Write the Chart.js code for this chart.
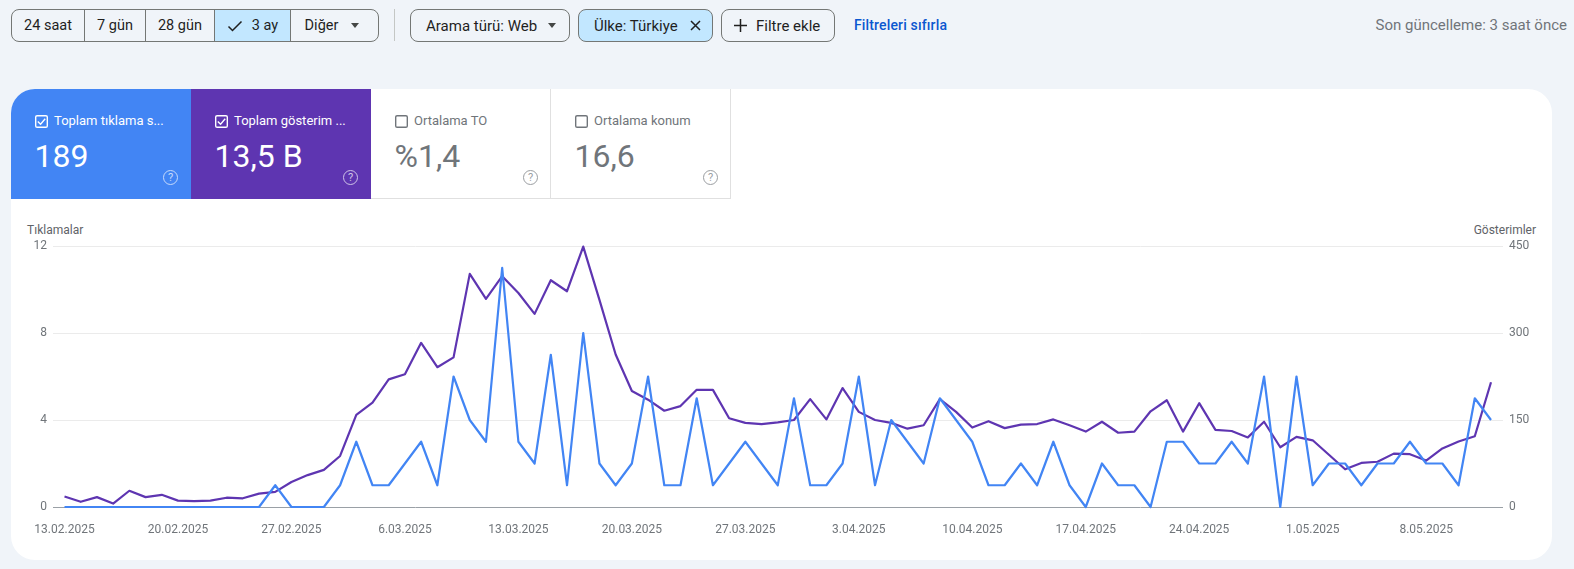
<!DOCTYPE html>
<html lang="tr">
<head>
<meta charset="utf-8">
<title>Performans</title>
<script src="https://cdn.jsdelivr.net/npm/chart.js@4/dist/chart.umd.min.js"></script>
<style>
  html, body { margin: 0; padding: 0; }
  body { width: 1574px; height: 569px; background: #f0f4f9; font-family: Roboto, sans-serif; color: #1f1f1f; position: relative; overflow: hidden; }
  .abs { position: absolute; }
  .btn { position: absolute; top: 9px; height: 31px; box-sizing: content-box; border: 1px solid #747775; border-radius: 8px; display: flex; align-items: center; font-size: 15px; white-space: nowrap; }
  .seg { height: 100%; display: flex; align-items: center; justify-content: center; box-sizing: border-box; border-right: 1px solid #747775; font-size: 14.5px; }
  .seg:last-child { border-right: 0; }
  .sel { background: #c2e7ff; }
  .caret { width: 0; height: 0; border-left: 4.5px solid transparent; border-right: 4.5px solid transparent; border-top: 5px solid #444746; display: inline-block; }
  #card { position: absolute; left: 11px; top: 89px; width: 1541px; height: 471px; background: #fff; border-radius: 24px; overflow: hidden; }
  .tab { position: absolute; top: 0; width: 180px; height: 110px; box-sizing: border-box; }
  .tab.off { border-right: 1px solid #e0e0e0; border-bottom: 1px solid #e0e0e0; color: #70757a; }
  .tab.on { color: #fff; }
  .tab .lbl { position: absolute; left: 43px; top: 24px; font-size: 13px; line-height: 16px; white-space: nowrap; }
  .tab .num { position: absolute; left: 23.5px; top: 47px; font-size: 32px; line-height: 40px; white-space: nowrap; }
  .tab svg.cb { position: absolute; left: 24px; top: 26px; }
  .tab .q { position: absolute; left: 152px; top: 81px; width: 13px; height: 13px; border: 1.5px solid currentColor; border-radius: 50%; font-size: 11px; line-height: 13px; text-align: center; opacity: .7; }
  #chartWrap { position: absolute; left: 0; top: 111px; width: 1541px; height: 360px; }
  .axisTitle { position: absolute; top: 134px; font-size: 12px; line-height: 14px; color: #5f6368; }
</style>
</head>
<body>
<div class="btn" style="left:11px;width:366px;">
  <div class="seg" style="width:73px;">24 saat</div>
  <div class="seg" style="width:61px;">7 gün</div>
  <div class="seg" style="width:69px;">28 gün</div>
  <div class="seg sel" style="width:76px;"><svg width="16" height="12" viewBox="0 0 16 12" style="margin-right:9px"><path d="M1.5 6.5l4 4 9-9" fill="none" stroke="#1f1f1f" stroke-width="1.5"/></svg>3 ay</div>
  <div class="seg" style="width:87px;padding-right:5px;">Diğer<span class="caret" style="margin-left:13px"></span></div>
</div>
<div class="abs" style="left:394px;top:9px;width:1px;height:32px;background:#c4c7c5;"></div>
<div class="btn" style="left:410px;width:143px;padding-left:15px;">Arama türü: Web<span class="caret" style="margin-left:11px"></span></div>
<div class="btn sel" style="left:578px;width:118px;padding-left:15px;">Ülke: Türkiye<svg width="11" height="11" viewBox="0 0 11 11" style="margin-left:12px"><path d="M1 1l9 9M10 1l-9 9" stroke="#1f1f1f" stroke-width="1.5"/></svg></div>
<div class="btn" style="left:721px;width:100px;padding-left:12px;"><svg width="13" height="13" viewBox="0 0 13 13" style="margin-right:9px"><path d="M6.5 0v13M0 6.5h13" stroke="#1f1f1f" stroke-width="1.5"/></svg>Filtre ekle</div>
<div class="abs" style="left:854px;top:17px;font-size:14px;line-height:16px;font-weight:500;letter-spacing:.15px;color:#0b57d0;">Filtreleri sıfırla</div>
<div class="abs" style="right:7px;top:16px;font-size:15px;line-height:18px;color:#70757a;">Son güncelleme: 3 saat önce</div>

<div id="card">
  <div class="tab on" style="left:0;background:#4285f4;">
    <svg class="cb" width="13" height="13" viewBox="0 0 14 14"><rect x=".75" y=".75" width="12.5" height="12.5" rx="1.5" fill="none" stroke="#fff" stroke-width="1.5"/><path d="M3 7l3 3 5-6" fill="none" stroke="#fff" stroke-width="1.5"/></svg>
    <div class="lbl">Toplam tıklama s...</div><div class="num">189</div><div class="q">?</div>
  </div>
  <div class="tab on" style="left:180px;background:#5e35b1;">
    <svg class="cb" width="13" height="13" viewBox="0 0 14 14"><rect x=".75" y=".75" width="12.5" height="12.5" rx="1.5" fill="none" stroke="#fff" stroke-width="1.5"/><path d="M3 7l3 3 5-6" fill="none" stroke="#fff" stroke-width="1.5"/></svg>
    <div class="lbl">Toplam gösterim ...</div><div class="num">13,5 B</div><div class="q">?</div>
  </div>
  <div class="tab off" style="left:360px;">
    <svg class="cb" width="13" height="13" viewBox="0 0 14 14"><rect x=".75" y=".75" width="12.5" height="12.5" rx="1.5" fill="none" stroke="#70757a" stroke-width="1.5"/></svg>
    <div class="lbl">Ortalama TO</div><div class="num">%1,4</div><div class="q">?</div>
  </div>
  <div class="tab off" style="left:540px;">
    <svg class="cb" width="13" height="13" viewBox="0 0 14 14"><rect x=".75" y=".75" width="12.5" height="12.5" rx="1.5" fill="none" stroke="#70757a" stroke-width="1.5"/></svg>
    <div class="lbl">Ortalama konum</div><div class="num">16,6</div><div class="q">?</div>
  </div>
  <div class="axisTitle" style="left:16px;">Tıklamalar</div>
  <div class="axisTitle" style="right:16px;">Gösterimler</div>
  <div id="chartWrap"><canvas id="perfChart"></canvas></div>
</div>

<script>
// x tick labels, one every 7 days (index -> label)
const tickIndexes = [0, 7, 14, 21, 28, 35, 42, 49, 56, 63, 70, 77, 84];
const tickLabels = ["13.02.2025", "20.02.2025", "27.02.2025", "6.03.2025", "13.03.2025", "20.03.2025", "27.03.2025", "3.04.2025", "10.04.2025", "17.04.2025", "24.04.2025", "1.05.2025", "8.05.2025"];

const clicks = [
    0, 0, 0, 0, 0, 0, 0, 0, 0, 0, 0, 0, 0, 1, 0, 0, 0, 1, 3, 1, 1, 2, 3, 1, 6, 4, 3, 11, 3, 2,
    7, 1, 8, 2, 1, 2, 6, 1, 1, 5, 1, 2, 3, 2, 1, 5, 1, 1, 2, 6, 1, 4, 3, 2, 5, 4, 3, 1, 1, 2,
    1, 3, 1, 0, 2, 1, 1, 0, 3, 3, 2, 2, 3, 2, 6, 0, 6, 1, 2, 2, 1, 2, 2, 3, 2, 2, 1, 5, 4,
];
const impressions = [
    18, 9, 17, 6, 28, 17, 21, 11, 10, 11, 16, 15, 23, 26, 43, 55, 64, 88, 159, 180, 220, 229, 283, 241, 258, 402, 359, 398, 369, 333,
    391, 372, 449, 357, 263, 200, 185, 166, 174, 202, 202, 153, 145, 143, 146, 150, 186, 151, 205, 164, 150, 145, 135, 141, 186, 164, 137, 148, 136, 142,
    143, 151, 141, 130, 147, 128, 130, 165, 184, 130, 179, 133, 131, 120, 147, 103, 121, 115, 90, 65, 76, 78, 92, 91, 80, 101, 113, 122, 215,
];

const toPoints = (arr) => arr.map((v, i) => ({ x: i, y: v }));
const TEXT_GREY = "#70757a";

new Chart(document.getElementById("perfChart"), {
    type: "line",
    data: {
        datasets: [
            { label: "Tıklamalar", data: toPoints(clicks), yAxisID: "y", borderColor: "#4285f4", borderWidth: 2.2, borderJoinStyle: "round", pointRadius: 0, tension: 0, clip: false },
            { label: "Gösterimler", data: toPoints(impressions), yAxisID: "y2", borderColor: "#5e35b1", borderWidth: 2.2, borderJoinStyle: "round", pointRadius: 0, tension: 0, clip: false },
        ],
    },
    options: {
        responsive: true,
        maintainAspectRatio: false,
        animation: false,
        layout: { padding: { top: 46 } },
        plugins: { legend: { display: false }, tooltip: { enabled: false } },
        scales: {
            x: {
                type: "linear",
                min: -0.71,
                max: 88.74,
                afterBuildTicks: (s) => { s.ticks = tickIndexes.map((v) => ({ value: v })); },
                afterFit: (s) => { s.height = 53; },
                grid: { display: false },
                border: { display: false },
                ticks: {
                    autoSkip: false,
                    maxRotation: 0,
                    padding: 8,
                    color: TEXT_GREY,
                    font: { family: "Roboto", size: 12 },
                    callback: (v) => tickLabels[tickIndexes.indexOf(v)],
                },
            },
            y: {
                position: "left",
                min: 0,
                max: 12,
                afterFit: (s) => { s.width = 42; },
                afterBuildTicks: (s) => { s.ticks = [0, 4, 8, 12].map((v) => ({ value: v })); },
                border: { display: false },
                grid: {
                    drawTicks: false,
                    lineWidth: 1,
                    color: (c) => (c.tick.value === 0 ? "#9aa0a6" : "#ebebeb"),
                },
                ticks: { padding: 6, color: TEXT_GREY, font: { family: "Roboto", size: 12 } },
            },
            y2: {
                position: "right",
                min: 0,
                max: 450,
                afterFit: (s) => { s.width = 49; },
                afterBuildTicks: (s) => { s.ticks = [0, 150, 300, 450].map((v) => ({ value: v })); },
                border: { display: false },
                grid: { display: false, drawTicks: false },
                ticks: { padding: 6, color: TEXT_GREY, font: { family: "Roboto", size: 12 } },
            },
        },
    },
});
</script>
</body>
</html>
